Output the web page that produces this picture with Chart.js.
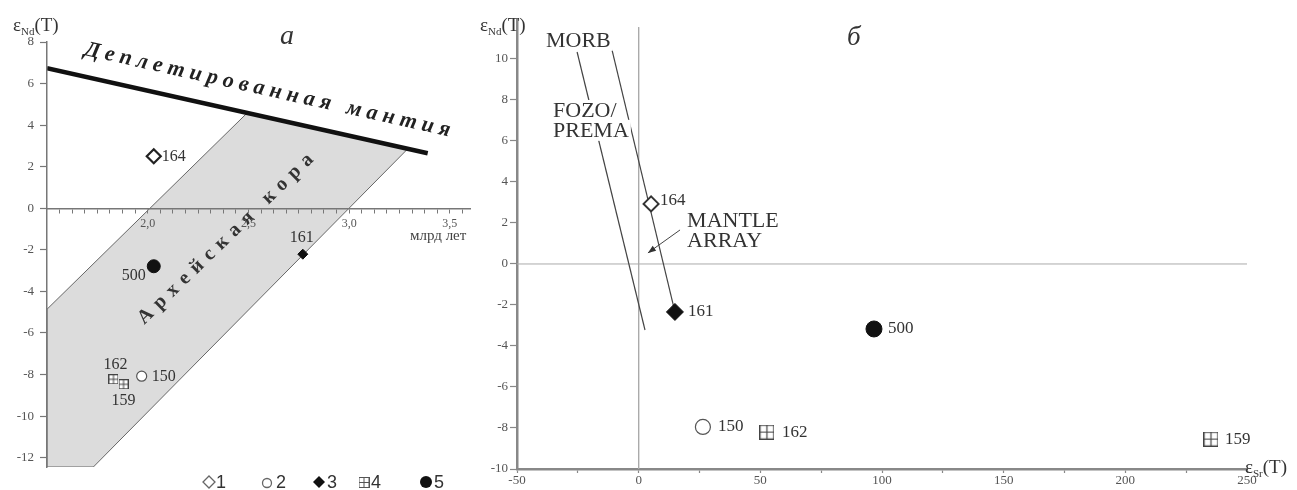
<!DOCTYPE html>
<html lang="ru">
<head>
<meta charset="utf-8">
<title>εNd(T) — модельный возраст и εNd(T) — εSr(T)</title>
<script src="https://cdn.jsdelivr.net/npm/chart.js"></script>
<style>
  html, body { margin: 0; padding: 0; background: #fff; }
  #wrap { position: relative; width: 1297px; height: 490px; overflow: hidden; }
  canvas { position: absolute; top: 0; }
  #chartA { left: 0; }
  #chartB { left: 460px; }
</style>
</head>
<body>
<div id="wrap">
  <canvas id="chartA" width="490" height="490"></canvas>
  <canvas id="chartB" width="837" height="490"></canvas>
</div>
<script>
const SERIF = '"Liberation Serif", "Times New Roman", serif';
const SANS = '"Liberation Sans", Arial, sans-serif';

// samples and their legend group (1..5)
const sampleIds = ["164", "150", "161", "162", "159", "500"];
const sampleGroups = [1, 2, 3, 4, 4, 5];

// panel а: age (Ga) vs εNd(T)
const modelAge = [2.03, 1.97, 2.77, 1.83, 1.88, 2.03];
const ndByAge = [2.5, -8.08, -2.21, -8.23, -8.47, -2.79];

// panel б: εSr(T) vs εNd(T)
const srInitial = [5.1, 26.4, 14.9, 52.7, 235.2, 96.7];
const ndInitial = [2.93, -7.95, -2.34, -8.2, -8.54, -3.17];

// depleted mantle line
const dmAge = [1.5, 3.39];
const dmNd = [6.74, 2.65];

// Archaean crust field outline
const crustAge = [1.5, 2.49, 3.29, 1.73, 1.5, 1.5];
const crustNd = [-4.86, 4.55, 2.85, -12.45, -12.45, -4.86];

// mantle array bounds (FOZO/PREMA and MORB)
const fozoSr = [-25.3, 2.6];
const fozoNd = [10.34, -3.22];
const morbSr = [-10.96, 14.9];
const morbNd = [10.44, -2.34];
const arrowSr = [17.0, 3.8];
const arrowNd = [1.66, 0.54];

// axis ticks
const ageTickLabels = [2.0, 2.5, 3.0, 3.5];
const ndTicksA = [-12, -10, -8, -6, -4, -2, 0, 2, 4, 6, 8];
const ndTicksB = [-10, -8, -6, -4, -2, 0, 2, 4, 6, 8, 10];
const srTickLabels = [-50, 0, 50, 100, 150, 200, 250];

const pts = (xs, ys) => xs.map((x, i) => ({ x, y: ys[i] }));

// square with a cross for group 4
function gridSquare(size, color, lw) {
  const c = document.createElement("canvas");
  c.width = c.height = size;
  const g = c.getContext("2d");
  g.strokeStyle = color;
  g.lineWidth = lw;
  g.fillStyle = "#fff";
  g.fillRect(0, 0, size, size);
  g.strokeRect(lw / 2, lw / 2, size - lw, size - lw);
  g.beginPath();
  g.moveTo(size / 2, 0); g.lineTo(size / 2, size);
  g.moveTo(0, size / 2); g.lineTo(size, size / 2);
  g.stroke();
  return c;
}

const styleA = {
  1: { style: "rectRot", r: 7, fill: "#fff", stroke: "#222", w: 2.2 },
  2: { style: "circle", r: 5, fill: "#fff", stroke: "#555", w: 1.2 },
  3: { style: "rectRot", r: 5, fill: "#111", stroke: "#111", w: 1 },
  4: { style: gridSquare(10, "#444", 1), r: 5, fill: "#fff", stroke: "#444", w: 1 },
  5: { style: "circle", r: 6.5, fill: "#111", stroke: "#111", w: 1 },
};
const styleB = {
  1: { style: "rectRot", r: 7.5, fill: "#fff", stroke: "#333", w: 2 },
  2: { style: "circle", r: 7.5, fill: "#fff", stroke: "#555", w: 1.2 },
  3: { style: "rectRot", r: 8.5, fill: "#111", stroke: "#111", w: 1 },
  4: { style: gridSquare(15, "#444", 1.2), r: 7, fill: "#fff", stroke: "#444", w: 1 },
  5: { style: "circle", r: 8, fill: "#111", stroke: "#111", w: 1 },
};

// label offsets [dx, dy, align] from the marker
const labelPosA = {
  "164": [8, 0, "left"], "500": [-8, 10, "right"], "161": [-1, -16, "center"],
  "150": [10, 1, "left"], "162": [2, -15, "center"], "159": [0, 17, "center"],
};
const labelPosB = {
  "164": [9, -3, "left"], "161": [13, 0, "left"], "500": [14, 0, "left"],
  "150": [15, 0, "left"], "162": [15, 0, "left"], "159": [14, 0, "left"],
};

function sampleDatasets(xs, ys, styles) {
  return [1, 2, 3, 4, 5].map((g) => {
    const idx = sampleIds.map((_, i) => i).filter((i) => sampleGroups[i] === g);
    const s = styles[g];
    return {
      label: String(g),
      ids: idx.map((i) => sampleIds[i]),
      data: idx.map((i) => ({ x: xs[i], y: ys[i] })),
      pointStyle: s.style,
      pointRadius: s.r,
      pointBackgroundColor: s.fill,
      pointBorderColor: s.stroke,
      pointBorderWidth: s.w,
      showLine: false,
    };
  });
}

function lineDataset(data, color, width, extra) {
  return Object.assign({ data, showLine: true, borderColor: color, borderWidth: width,
    pointRadius: 0, fill: false }, extra || {});
}

function labelSamples(chart, offsets, font) {
  const ctx = chart.ctx;
  ctx.save();
  ctx.font = font;
  ctx.fillStyle = "#333";
  ctx.textBaseline = "middle";
  chart.data.datasets.forEach((ds, di) => {
    if (!ds.ids) return;
    const meta = chart.getDatasetMeta(di);
    ds.ids.forEach((id, j) => {
      const el = meta.data[j];
      const [dx, dy, align] = offsets[id];
      ctx.textAlign = align;
      ctx.fillText(id, el.x + dx, el.y + dy);
    });
  });
  ctx.restore();
}

// spread the characters of a string between two points
function spacedText(ctx, text, x0, y0, x1, y1, font, color, baseline) {
  const chars = [...text];
  ctx.save();
  ctx.font = font;
  ctx.fillStyle = color;
  ctx.textBaseline = baseline;
  ctx.textAlign = "left";
  ctx.translate(x0, y0);
  ctx.rotate(Math.atan2(y1 - y0, x1 - x0));
  const length = Math.hypot(x1 - x0, y1 - y0);
  const widths = chars.map((ch) => ctx.measureText(ch).width);
  const gap = (length - widths.reduce((a, b) => a + b, 0)) / (chars.length - 1);
  let x = 0;
  chars.forEach((ch, i) => { ctx.fillText(ch, x, 0); x += widths[i] + gap; });
  ctx.restore();
}

function epsilonTitle(ctx, sub, x, y) {
  ctx.save();
  ctx.fillStyle = "#333";
  ctx.textBaseline = "alphabetic";
  ctx.textAlign = "left";
  ctx.font = "19px " + SERIF;
  ctx.fillText("ε", x, y);
  let cx = x + ctx.measureText("ε").width;
  ctx.font = "11px " + SERIF;
  ctx.fillText(sub, cx, y + 4);
  cx += ctx.measureText(sub).width;
  ctx.font = "19px " + SERIF;
  ctx.fillText("(T)", cx, y);
  ctx.restore();
}

function boxedText(ctx, text, x, y, font) {
  ctx.save();
  ctx.font = font;
  ctx.textAlign = "left";
  ctx.textBaseline = "alphabetic";
  const w = ctx.measureText(text).width;
  ctx.fillStyle = "#fff";
  ctx.fillRect(x - 1, y - 17, w + 3, 21);
  ctx.fillStyle = "#333";
  ctx.fillText(text, x, y);
  ctx.restore();
}

const tickFont = (size) => ({ family: SERIF, size });

// ---------- panel а ----------
const minorAge = [];
for (let k = 25; k * 0.0625 < 3.6; k++) minorAge.push(k * 0.0625);

const panelA = {
  id: "panelA",
  afterDatasetsDraw(chart) {
    const ctx = chart.ctx;
    const sx = chart.scales.x, sy = chart.scales.y;
    labelSamples(chart, labelPosA, "16px " + SERIF);

    // text along the depleted mantle line
    const p0 = { x: sx.getPixelForValue(dmAge[0]), y: sy.getPixelForValue(dmNd[0]) };
    const p1 = { x: sx.getPixelForValue(dmAge[1]), y: sy.getPixelForValue(dmNd[1]) };
    const len = Math.hypot(p1.x - p0.x, p1.y - p0.y);
    const ux = (p1.x - p0.x) / len, uy = (p1.y - p0.y) / len;
    const nx = uy, ny = -ux;
    const s = { x: p0.x + ux * 33 + nx * 21, y: p0.y + uy * 33 + ny * 21 };
    const e = { x: s.x + ux * 374, y: s.y + uy * 374 };
    spacedText(ctx, "Деплетированная мантия", s.x, s.y, e.x, e.y,
      "italic bold 22px " + SERIF, "#222", "alphabetic");

    // text inside the crust field
    spacedText(ctx, "Архейская кора",
      sx.getPixelForValue(1.965), sy.getPixelForValue(-5.44),
      sx.getPixelForValue(2.809), sy.getPixelForValue(2.48),
      "bold 20px " + SERIF, "#333", "middle");
  },
  afterDraw(chart) {
    const ctx = chart.ctx;
    const sx = chart.scales.x, sy = chart.scales.y;
    const area = chart.chartArea;
    epsilonTitle(ctx, "Nd", area.left - 34, 31);

    ctx.save();
    ctx.fillStyle = "#333";
    ctx.font = "italic 28px " + SERIF;
    ctx.textAlign = "left";
    ctx.fillText("а", area.left + 233, 44);
    ctx.font = "15px " + SERIF;
    ctx.fillStyle = "#444";
    ctx.fillText("млрд лет", sx.getPixelForValue(3.302), sy.getPixelForValue(-1.54));

    // legend
    const y = 482;
    ctx.font = "18px " + SANS;
    ctx.textBaseline = "middle";
    ctx.fillStyle = "#333";
    const items = [[209, 216, "1"], [267, 276, "2"], [319, 327, "3"], [364, 371, "4"], [426, 434, "5"]];
    items.forEach(([cx, tx, t]) => ctx.fillText(t, tx, y + 1));
    ctx.lineWidth = 1.3;
    ctx.strokeStyle = "#666";
    ctx.beginPath();
    ctx.moveTo(209, y - 6); ctx.lineTo(215, y); ctx.lineTo(209, y + 6); ctx.lineTo(203, y); ctx.closePath();
    ctx.stroke();
    ctx.beginPath(); ctx.arc(267, y + 1, 4.5, 0, Math.PI * 2); ctx.stroke();
    ctx.fillStyle = "#111";
    ctx.beginPath();
    ctx.moveTo(319, y - 6); ctx.lineTo(325, y); ctx.lineTo(319, y + 6); ctx.lineTo(313, y); ctx.closePath();
    ctx.fill();
    ctx.drawImage(gridSquare(11, "#555", 1), 358.5, y - 5);
    ctx.beginPath(); ctx.arc(426, y, 6, 0, Math.PI * 2); ctx.fill();
    ctx.restore();
  },
};

new Chart(document.getElementById("chartA"), {
  type: "scatter",
  data: {
    datasets: [
      ...sampleDatasets(modelAge, ndByAge, styleA),
      lineDataset(pts(dmAge, dmNd), "#111", 4.5),
      lineDataset(pts(crustAge, crustNd), "#666", 1, { fill: "shape", backgroundColor: "#dcdcdc" }),
    ],
  },
  options: {
    responsive: false,
    animation: false,
    events: [],
    layout: { padding: { left: 0, top: 42, right: 20, bottom: 23 } },
    plugins: { legend: { display: false }, tooltip: { enabled: false } },
    scales: {
      // axes of this panel sit on top of the shaded crust field
      x: {
        type: "linear", min: 1.5, max: 3.6, position: { y: 0 },
        afterBuildTicks: (s) => { s.ticks = minorAge.map((v) => ({ value: v })); },
        ticks: {
          z: 1, autoSkip: false, maxRotation: 0, padding: 4, color: "#555", font: tickFont(12),
          callback: (v) => ageTickLabels.some((t) => Math.abs(t - v) < 1e-9) ? v.toFixed(1).replace(".", ",") : "",
        },
        grid: { z: 1, drawOnChartArea: false, tickLength: 4, tickColor: "#777", tickWidth: 1 },
        border: { z: 1, color: "#777", width: 1.5 },
      },
      y: {
        type: "linear", min: -12.45, max: 8,
        afterBuildTicks: (s) => { s.ticks = ndTicksA.map((v) => ({ value: v })); },
        afterFit: (s) => { s.width = 47; },
        ticks: { z: 1, autoSkip: false, padding: 6, color: "#555", font: tickFont(13) },
        grid: { z: 1, drawOnChartArea: false, tickLength: 7, tickColor: "#777", tickWidth: 1.2 },
        border: { z: 1, color: "#777", width: 1.5 },
      },
    },
  },
  plugins: [panelA],
});

// ---------- panel б ----------
const minorSr = [];
for (let v = -50; v <= 250; v += 25) minorSr.push(v);

const panelB = {
  id: "panelB",
  afterDatasetsDraw(chart) {
    const ctx = chart.ctx;
    const sx = chart.scales.x, sy = chart.scales.y;
    labelSamples(chart, labelPosB, "17px " + SERIF);

    const font = "22px " + SERIF;
    const at = (x, y) => [sx.getPixelForValue(x), sy.getPixelForValue(y)];
    boxedText(ctx, "MORB", ...at(-38.1, 10.59), font);
    boxedText(ctx, "FOZO/", ...at(-35.2, 7.17), font);
    boxedText(ctx, "PREMA", ...at(-35.2, 6.2), font);
    boxedText(ctx, "MANTLE", ...at(19.9, 1.8), font);
    boxedText(ctx, "ARRAY", ...at(19.9, 0.83), font);

    // arrowhead pointing at the mantle array
    const [ax0, ay0] = at(arrowSr[0], arrowNd[0]);
    const [ax1, ay1] = at(arrowSr[1], arrowNd[1]);
    const ang = Math.atan2(ay1 - ay0, ax1 - ax0);
    ctx.save();
    ctx.fillStyle = "#333";
    ctx.translate(ax1, ay1);
    ctx.rotate(ang);
    ctx.beginPath();
    ctx.moveTo(0, 0); ctx.lineTo(-8, -3); ctx.lineTo(-8, 3); ctx.closePath();
    ctx.fill();
    ctx.restore();
  },
  afterDraw(chart) {
    const ctx = chart.ctx;
    const area = chart.chartArea;
    epsilonTitle(ctx, "Nd", area.left - 37, 31);
    epsilonTitle(ctx, "Sr", area.right - 2, area.bottom + 4);
    ctx.save();
    ctx.fillStyle = "#333";
    ctx.font = "italic 27px " + SERIF;
    ctx.fillText("б", area.left + 330, 45);
    ctx.restore();
  },
};

new Chart(document.getElementById("chartB"), {
  type: "scatter",
  data: {
    datasets: [
      ...sampleDatasets(srInitial, ndInitial, styleB),
      lineDataset(pts(fozoSr, fozoNd), "#444", 1.2),
      lineDataset(pts(morbSr, morbNd), "#444", 1.2),
      lineDataset(pts(arrowSr, arrowNd), "#444", 1),
      lineDataset([{ x: 0, y: 11.55 }, { x: 0, y: -10 }], "#aaa", 1),
      lineDataset([{ x: -50, y: 0 }, { x: 250, y: 0 }], "#aaa", 1),
    ],
  },
  options: {
    responsive: false,
    animation: false,
    events: [],
    layout: { padding: { left: 0, top: 20, right: 50, bottom: 0 } },
    plugins: { legend: { display: false }, tooltip: { enabled: false } },
    scales: {
      x: {
        type: "linear", min: -50, max: 250,
        afterBuildTicks: (s) => { s.ticks = minorSr.map((v) => ({ value: v })); },
        afterFit: (s) => { s.height = 21; },
        ticks: {
          autoSkip: false, maxRotation: 0, padding: 0, color: "#555", font: tickFont(13),
          callback: (v) => srTickLabels.includes(v) ? String(v) : "",
        },
        grid: { drawOnChartArea: false, tickLength: 4, tickColor: "#888", tickWidth: 1.2 },
        border: { color: "#888", width: 2.5 },
      },
      y: {
        type: "linear", min: -10, max: 11.9,
        afterBuildTicks: (s) => { s.ticks = ndTicksB.map((v) => ({ value: v })); },
        afterFit: (s) => { s.width = 57; },
        ticks: { autoSkip: false, padding: 2, color: "#555", font: tickFont(13) },
        grid: { drawOnChartArea: false, tickLength: 7, tickColor: "#888", tickWidth: 1.2 },
        border: { color: "#888", width: 2.5 },
      },
    },
  },
  plugins: [panelB],
});
</script>
</body>
</html>
